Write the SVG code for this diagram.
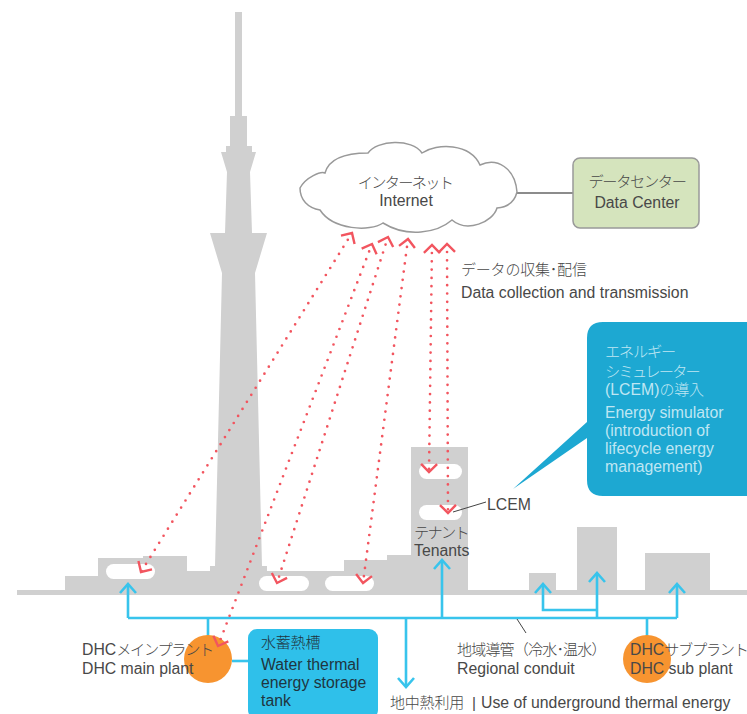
<svg xmlns="http://www.w3.org/2000/svg" width="747" height="714" viewBox="0 0 747 714">
  <style>
    text { font-family: "Liberation Sans", "Noto Sans CJK JP", sans-serif; font-size: 15.8px; fill: #484848; }
    .k14 { font-size: 15.2px; letter-spacing: -1.2px; font-weight: 300; }
    .k13 { font-size: 15.2px; letter-spacing: -1.7px; font-weight: 300; }
    .k137 { font-size: 15.2px; letter-spacing: -1.3px; font-weight: 300; }
    .k147 { font-size: 15px; letter-spacing: -0.2px; font-weight: 300; }
    .city { fill: #d0d0d0; }
    .win { fill: #fff; }
    .data { fill: none; stroke: #f2555f; stroke-width: 2.7; stroke-linecap: round; stroke-dasharray: 0 8.3; stroke-dashoffset: -8; marker-start: url(#redHead); marker-end: url(#redHead); }
    .pipe { fill: none; stroke: #38c4ec; stroke-width: 2.6; }
    .feed { marker-end: url(#blueHead); }
    .lead { fill: none; stroke: #444; stroke-width: 1; }
    .plant { fill: #f79430; }
    .sim { fill: #bfe6f3; }
    .tank { fill: #1f3540; }
  </style>
  <defs>
    <marker id="redHead" markerUnits="userSpaceOnUse" markerWidth="24" markerHeight="24" refX="12" refY="12" orient="auto-start-reverse" overflow="visible">
      <path d="M4,4 L12,12 L4,20" fill="none" stroke="#f2555f" stroke-width="2.4"/>
    </marker>
    <marker id="blueHead" markerUnits="userSpaceOnUse" markerWidth="24" markerHeight="24" refX="12" refY="12" orient="auto" overflow="visible">
      <path d="M3,4 L12,12 L3,20" fill="none" stroke="#38c4ec" stroke-width="2.6"/>
    </marker>
  </defs>

  <!-- skyline -->
  <g id="skyline">
    <path class="city" d="M235,12 H242 V116 H247 V146 H252 V152 H256 L250,172 L252,233 H267 L255,273 L262,566 H267 V571 H344 V560 H387 V555 H411 V447 H468 V590 H529 V573 H556 V590 H577 V527 H617 V590 H645 V553 H710 V590 H747 V595 H17 V590 H65 V576 H98 V558 H143 V556 H187 V571 H210 V566 H215 L222,273 L210,233 H225 L227,172 L221,152 H226 V146 H230 V116 H235 Z"/>
    <rect class="win" x="106" y="564" width="49" height="15" rx="7.5"/>
    <rect class="win" x="259" y="576" width="50" height="15" rx="7.5"/>
    <rect class="win" x="325" y="576" width="49" height="15" rx="7.5"/>
    <rect class="win" x="419" y="464" width="43" height="15" rx="7.5"/>
    <rect class="win" x="419" y="505" width="43" height="15" rx="7.5"/>
  </g>

  <!-- plant circles and pipe network -->
  <g id="connectors">
    <path class="pipe" d="M232,661 H248"/>
    <path class="pipe" d="M128,618 H677"/>
    <path class="pipe feed" d="M128,618 V584"/>
    <path class="pipe feed" d="M442,618 V560"/>
    <path class="pipe feed" d="M597,618 V573"/>
    <path class="pipe feed" d="M597,610 H543 V584"/>
    <path class="pipe feed" d="M677,618 V584"/>
    <path class="pipe feed" d="M406,618 V687"/>
    <path class="pipe" d="M208,618 V640"/>
    <path class="pipe" d="M647,618 V640"/>
    <path d="M517,193 H573" fill="none" stroke="#8c8c8c" stroke-width="2"/>
    <path class="lead" d="M517,619 L526,633"/>
    <path class="lead" d="M453,512 L486,502"/>
  </g>

  <g id="main-plant">
    <circle class="plant" cx="208" cy="659" r="24"/>
    <text x="82" y="655">DHC<tspan class="k137">メインプラント</tspan></text>
    <text x="82" y="674">DHC main plant</text>
  </g>
  <g id="sub-plant">
    <circle class="plant" cx="647" cy="659" r="24"/>
    <text x="630" y="655">DHC<tspan class="k137">サブプラント</tspan></text>
    <text x="630" y="674">DHC sub plant</text>
  </g>

  <g id="storage-tank">
    <rect x="248" y="629" width="130" height="90" rx="9" fill="#2fc0ea"/>
    <text class="tank k147" x="261" y="648">水蓄熱槽</text>
    <text class="tank" x="261" y="670">Water thermal</text>
    <text class="tank" x="261" y="688">energy storage</text>
    <text class="tank" x="261" y="706">tank</text>
  </g>

  <g id="internet">
    <path fill="#fff" stroke="#999" stroke-width="1.5" d="M300,188 C306,177 321,171 325,173 C330,155 355,153 368,153 C377,140 412,138 422,153 C437,143 470,143 480,165 C497,157 515,168 517,192 C515,200 510,207 497,208 C493,222 467,233 452,220 C437,233 407,238 383,223 C370,232 333,230 320,210 C308,208 300,200 300,188 Z"/>
    <text class="k13" x="405" y="188" text-anchor="middle">インターネット</text>
    <text x="406" y="206" text-anchor="middle">Internet</text>
  </g>

  <g id="data-center">
    <rect x="573" y="158" width="126" height="70" rx="7" fill="#d5e4bd" stroke="#999" stroke-width="1.5"/>
    <text class="k137" x="637" y="187" text-anchor="middle">データセンター</text>
    <text x="637" y="208" text-anchor="middle">Data Center</text>
  </g>

  <g id="simulator">
    <path d="M513,489 L587,422 V338 Q587,322 603,322 H747 V496 H603 Q587,496 587,480 V438 Z" fill="#1da8d2"/>
    <text class="sim k14" x="605" y="357">エネルギー</text>
    <text class="sim k13" x="605" y="377">シミュレーター</text>
    <text class="sim" x="605" y="395">(LCEM)<tspan class="k147">の導入</tspan></text>
    <text class="sim" x="605" y="418">Energy simulator</text>
    <text class="sim" x="605" y="436">(introduction of</text>
    <text class="sim" x="605" y="454">lifecycle energy</text>
    <text class="sim" x="605" y="472">management)</text>
  </g>

  <!-- data links between the sites and the network -->
  <g id="data-links">
    <path class="data" d="M352,233 L141,572"/>
    <path class="data" d="M372,244 L218,646"/>
    <path class="data" d="M388,237 L277,583"/>
    <path class="data" d="M408,239 L363,583"/>
    <path class="data" d="M432,245 L429,472"/>
    <path class="data" d="M447,244 L448,513"/>
  </g>

  <g id="labels">
    <text class="k147" x="461" y="275">データの収集･配信</text>
    <text x="461" y="298">Data collection and transmission</text>
    <text x="487" y="510">LCEM</text>
    <text class="k13" x="414" y="538">テナント</text>
    <text x="414" y="556">Tenants</text>
    <text class="k147" x="457" y="655" style="letter-spacing:-0.8px">地域導管（冷水･温水）</text>
    <text x="457" y="674">Regional conduit</text>
    <text x="390" y="708"><tspan class="k147">地中熱利用</tspan><tspan x="472" class="k13">|</tspan><tspan x="481">Use of underground thermal energy</tspan></text>
  </g>
</svg>
